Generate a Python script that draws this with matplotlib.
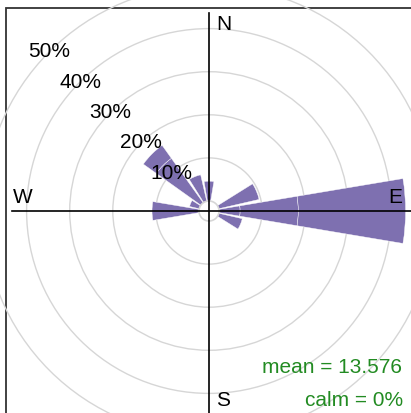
import numpy as np
import matplotlib
matplotlib.use("Agg")
import matplotlib.pyplot as plt
from matplotlib.patches import Wedge, Circle, Rectangle

# ── Data (percent frequency by direction, stacked by speed band) ─────────────
directions = [0, 22.5, 45, 67.5, 90, 112.5, 135, 157.5,
              180, 202.5, 225, 247.5, 270, 292.5, 315, 337.5]
band1 = [4.6, 0, 0, 9.6, 4.9, 5.6, 0, 0, 0, 0, 0, 0, 10.9, 2.3, 12.7, 6.3]
band2 = [0, 0, 0, 0, 13.5, 0, 0, 0, 0, 0, 0, 0, 0, 0, 3.7, 0]
band3 = [0, 0, 0, 0, 24.9, 0, 0, 0, 0, 0, 0, 0, 0, 0, 0, 0]

grid_levels = [10, 20, 30, 40, 50]
grid_labels = ["10%", "20%", "30%", "40%", "50%"]
mean_ws = 13.576
calm_pct = 0

# ── Style ────────────────────────────────────────────────────────────────────
plt.rcParams["font.family"] = ["Liberation Sans", "DejaVu Sans"]
bar_col = "#7E70B0"
grid_col = "#D6D6D6"
offset = 2.32          # calm circle radius in percent units
bar_width = 19.0       # degrees
fs = 15

fig = plt.figure(figsize=(4.11, 4.13), dpi=100)
ax = fig.add_axes([0, 0, 1, 1])
ax.set_xlim(-209 / 4.31, 202 / 4.31)
ax.set_ylim(-202 / 4.31, 211 / 4.31)
ax.set_aspect("equal")
ax.axis("off")

# panel border
ax.add_patch(Rectangle((-47.1, -47.1), 94.2, 94.2, fill=False,
                       edgecolor="#333333", linewidth=1.3, zorder=0))

# grid circles
for lev in grid_levels:
    ax.add_patch(Circle((0, 0), offset + lev, fill=False,
                        edgecolor=grid_col, linewidth=1.0, zorder=1))

# bars
bands = [band1, band2, band3]
for i, d in enumerate(directions):
    base = offset
    ang = 90 - d
    for b in bands:
        v = b[i]
        if v <= 0:
            continue
        ax.add_patch(Wedge((0, 0), base + v, ang - bar_width / 2,
                           ang + bar_width / 2, width=v,
                           facecolor=bar_col, edgecolor="white",
                           linewidth=0.3, zorder=2))
        base += v

# calm circle
ax.add_patch(Circle((0, 0), offset, fill=False, edgecolor=grid_col,
                    linewidth=1.2, zorder=3))

# axis lines
ax.plot([0, 0], [-48, 45.9], color="black", linewidth=1.2, zorder=4)
ax.plot([-45.7, 48], [0, 0], color="black", linewidth=1.2, zorder=4)

# compass labels
ax.text(1.6, 43.2, "N", fontsize=fs, ha="left", va="center", zorder=5)
ax.text(1.6, -43.9, "S", fontsize=fs, ha="left", va="center", zorder=5)
ax.text(-45.5, 3.2, "W", fontsize=fs, ha="left", va="center", zorder=5)
ax.text(44.8, 3.2, "E", fontsize=fs, ha="right", va="center", zorder=5)

# percentage labels along NW diagonal
c = np.cos(np.radians(45))
for lev, lab in zip(grid_levels, grid_labels):
    r = offset + lev
    ax.text(-r * c, r * c, lab, fontsize=fs, ha="center", va="center",
            zorder=5)

ax.text(44.8, -36.4, f"mean = {mean_ws}", fontsize=fs, color="#228B22",
        ha="right", va="center", zorder=5)
ax.text(45.0, -43.9, f"calm = {calm_pct}%", fontsize=fs, color="#228B22",
        ha="right", va="center", zorder=5)

fig.savefig("out.png", dpi=100)
